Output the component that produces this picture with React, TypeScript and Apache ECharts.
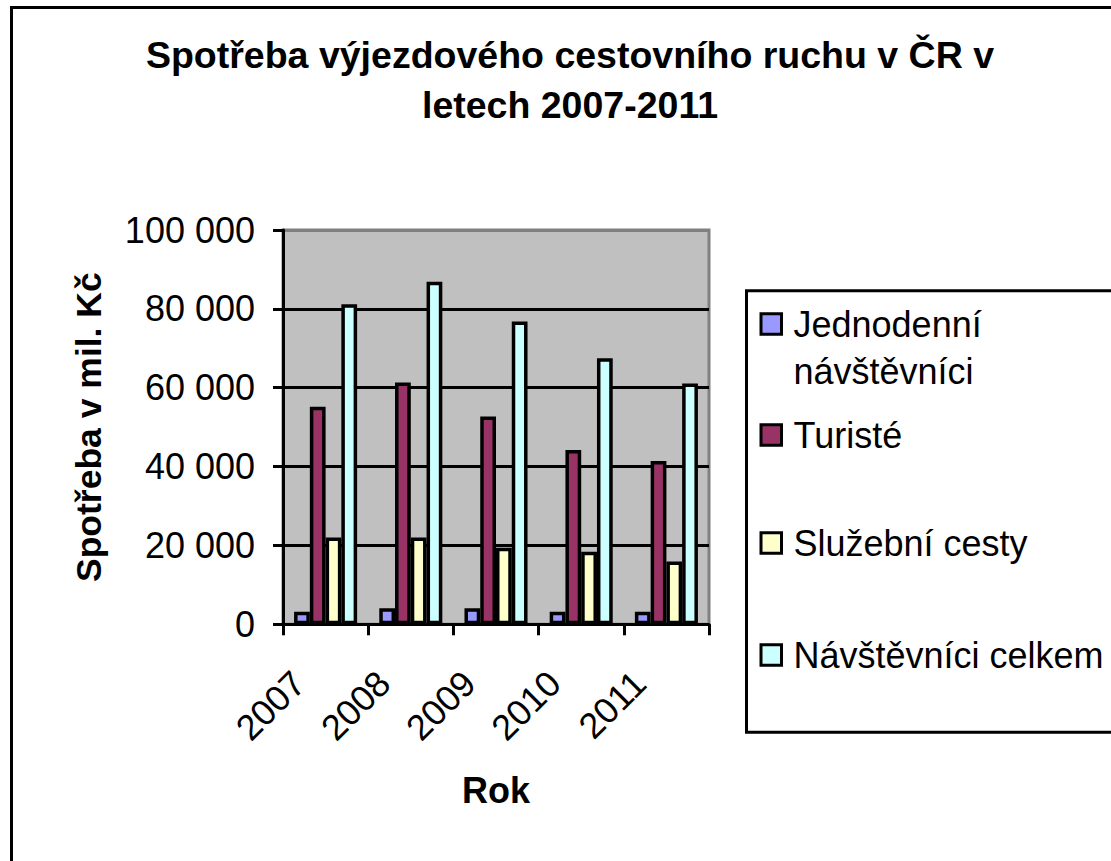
import { useEffect, useRef } from 'react';
import * as echarts from 'echarts';

const years = ['2007', '2008', '2009', '2010', '2011'];
const jednodenni = [3200, 4100, 4100, 3200, 3200];
const turiste = [55200, 61300, 52700, 44200, 41400];
const sluzebni = [22000, 22000, 19400, 18400, 15900];
const celkem = [81200, 86900, 76800, 67500, 61100];
const seriesNames = ['Jednodenní návštěvníci', 'Turisté', 'Služební cesty', 'Návštěvníci celkem'];
const seriesColors = ['#9999FF', '#993366', '#FFFFCC', '#CCFFFF'];
const yMin = 0;
const yMax = 100000;
const yInterval = 20000;

const FONT = '"Liberation Sans", Arial, sans-serif';

function fmt(v: number): string {
  return String(v).replace(/\B(?=(\d{3})+(?!\d))/g, ' ');
}

export default function App() {
  const ref = useRef<HTMLDivElement>(null);
  useEffect(() => {
    if (!ref.current) return;
    const chart = echarts.init(ref.current, undefined, { renderer: 'svg' });
    const values = [jednodenni, turiste, sluzebni, celkem];
    const legendPads = [
      [0, 0, 0, 7],
      [17, 0, 17, 7],
      [44, 0, 44, 7],
      [21, 0, 21, 7],
    ];
    chart.setOption({
      animation: false,
      backgroundColor: '#fff',
      title: {
        text: 'Spotřeba výjezdového cestovního ruchu v ČR v\nletech 2007-2011',
        left: 570,
        top: 30,
        textAlign: 'center',
        padding: 0,
        textStyle: { fontFamily: FONT, fontSize: 37.5, fontWeight: 'bold', lineHeight: 50, color: '#000' },
      },
      grid: {
        left: 283,
        right: 402,
        top: 230,
        bottom: 236.7,
        show: true,
        backgroundColor: '#C0C0C0',
        borderColor: '#808080',
        borderWidth: 3,
        containLabel: false,
        outerBoundsMode: 'none',
      },
      legend: {
        orient: 'vertical',
        left: 759.5,
        top: 253.5,
        padding: 0,
        itemGap: 0,
        itemWidth: 20.5,
        itemHeight: 20.5,
        icon: 'rect',
        selectedMode: false,
        itemStyle: { borderColor: '#000', borderWidth: 3 },
        textStyle: { fontFamily: FONT, fontSize: 36, color: '#000', lineHeight: 47 },
        formatter: (name: string) => (name === seriesNames[0] ? '\nJednodenní\nnávštěvníci' : name),
        data: seriesNames.map((n, i) => ({
          name: n,
          textStyle: { padding: legendPads[i], backgroundColor: 'rgba(255,255,255,0)' },
        })),
      },
      xAxis: {
        type: 'category',
        data: years,
        boundaryGap: true,
        axisLine: { show: true, lineStyle: { color: '#000', width: 3 } },
        axisTick: { show: true, length: 11, alignWithLabel: false, lineStyle: { color: '#000', width: 3 } },
        axisLabel: {
          rotate: 45,
          interval: 0,
          fontFamily: FONT,
          fontSize: 36,
          color: '#000',
          margin: 26,
          padding: [0, 38, 0, 0],
        },
        splitLine: { show: false },
        name: 'Rok',
        nameLocation: 'middle',
        nameGap: 148,
        nameTextStyle: { fontFamily: FONT, fontSize: 36, fontWeight: 'bold', color: '#000' },
      },
      yAxis: {
        type: 'value',
        min: yMin,
        max: yMax,
        interval: yInterval,
        axisLine: { show: true, lineStyle: { color: '#000', width: 3 } },
        axisTick: { show: true, length: 10, lineStyle: { color: '#000', width: 3 } },
        axisLabel: { formatter: (v: number) => fmt(v), fontFamily: FONT, fontSize: 36, color: '#000', margin: 28 },
        splitLine: {
          show: true,
          lineStyle: { color: ['#000', '#000', '#000', '#000', '#000', '#808080'], width: 3 },
        },
        name: 'Spotřeba v mil. Kč',
        nameLocation: 'middle',
        nameRotate: 90,
        nameGap: 176,
        nameTextStyle: { fontFamily: FONT, fontSize: 35.5, fontWeight: 'bold', color: '#000' },
      },
      series: seriesNames.map((n, i) => ({
        name: n,
        type: 'bar',
        data: values[i],
        barGap: '0%',
        barCategoryGap: '26%',
        itemStyle: { color: seriesColors[i], borderColor: '#000', borderWidth: 3.5 },
      })),
      graphic: [
        {
          type: 'rect',
          silent: true,
          shape: { x: 11.5, y: 7.5, width: 1200, height: 1000 },
          style: { fill: 'none', stroke: '#000', lineWidth: 3 },
        },
        {
          type: 'rect',
          silent: true,
          shape: { x: 746.5, y: 290.7, width: 500, height: 441.6 },
          style: { fill: 'none', stroke: '#000', lineWidth: 3 },
        },
      ],
    });
    return () => chart.dispose();
  }, []);
  return (
    <div
      ref={ref}
      style={{ position: 'absolute', left: 0, top: 0, width: 1111, height: 861 }}
    />
  );
}
